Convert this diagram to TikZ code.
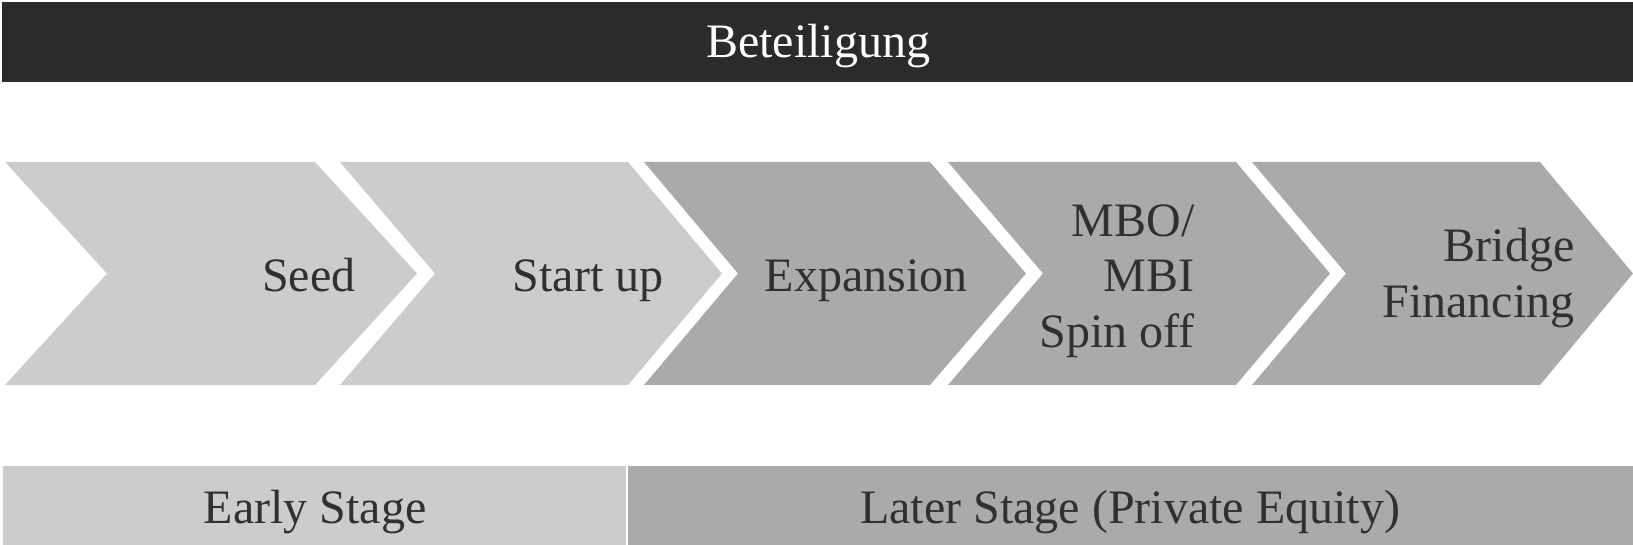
\documentclass[tikz,border=0pt]{standalone}
\usepackage{fontspec}
\setmainfont{Liberation Serif}
\usepackage{xcolor}
\usetikzlibrary{positioning}
\definecolor{headbar}{HTML}{2B2B2B}
\definecolor{earlygray}{HTML}{CCCCCC}
\definecolor{lategray}{HTML}{AAAAAA}
\definecolor{labelgray}{HTML}{303030}

\begin{document}
\begin{tikzpicture}[x=0.5pt, y=-0.5pt,
    lbl/.style={inner sep=0pt, text=labelgray, font=\fontsize{24pt}{27.8pt}\selectfont},
    early/.style={fill=earlygray},
    late/.style={fill=lategray}]

    % Canvas size (pixel grid, y pointing down)
    \useasboundingbox (0,0) rectangle (1633,545);

    % Heading bar across the top
    \fill[headbar] (2,2) rectangle (1633,82);
    \node[lbl, text=white, anchor=base] (head) at (818,58) {Beteiligung};

    % Chevron row: two early phases, three later phases
    \fill[early] (5,162) -- (315,162) -- (417,273.5) -- (315,385) -- (5,385) -- (107,273.5) -- cycle;
    \fill[early] (340,162) -- (628,162) -- (722,273.5) -- (628,385) -- (340,385) -- (435,273.5) -- cycle;
    \fill[late] (644,162) -- (930,162) -- (1026,273.5) -- (930,385) -- (644,385) -- (738,273.5) -- cycle;
    \fill[late] (948,162) -- (1236,162) -- (1330,273.5) -- (1236,385) -- (948,385) -- (1043,273.5) -- cycle;
    \fill[late] (1252,162) -- (1540,162) -- (1633,273.5) -- (1540,385) -- (1252,385) -- (1346,273.5) -- cycle;

    % Phase labels, set flush right inside each chevron
    \node[lbl, anchor=base east] (seed) at (356,292) {Seed};
    \node[lbl, anchor=base east] (startup) at (664,292) {Start up};
    \node[lbl, anchor=base east] (expansion) at (968,292) {Expansion};
    \node[lbl, align=right, anchor=east] (mbo) at (1195,281) {MBO/\\MBI\\Spin off};
    \node[lbl, align=right, anchor=east] (bridge) at (1575,278) {Bridge\\Financing};

    % Stage bars along the bottom
    \fill[early] (3,466) rectangle (626,545);
    \fill[late] (628,466) rectangle (1633,545);
    \node[lbl, anchor=base] (earlystage) at (315,523) {Early Stage};
    \node[lbl, anchor=base] (laterstage) at (1130,523) {Later Stage (Private Equity)};

\end{tikzpicture}
\end{document}
